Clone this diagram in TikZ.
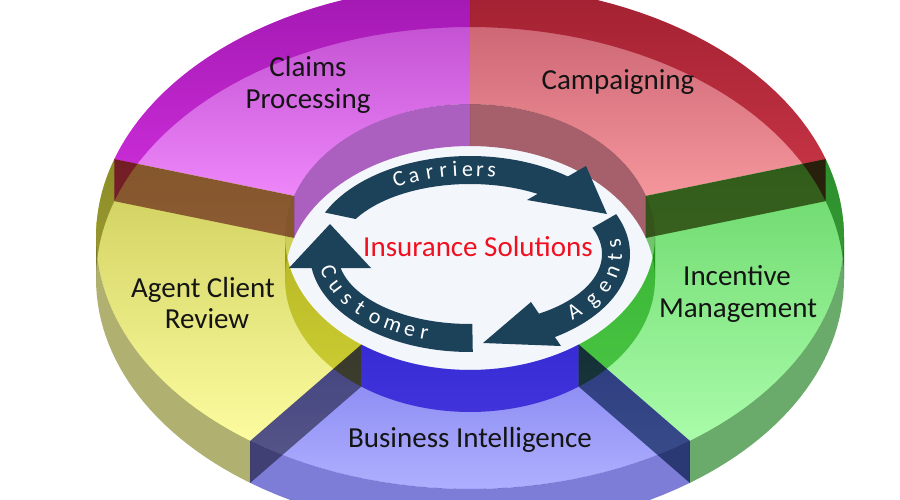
\documentclass[tikz,border=0pt]{standalone}
\usepackage{fontspec}
\setmainfont{Carlito}
\definecolor{mTa}{RGB}{186,70,202}\definecolor{mTb}{RGB}{238,135,250}
\definecolor{mDo}{RGB}{222,89,224}\definecolor{mDi}{RGB}{180,100,195}\definecolor{mDr}{RGB}{187,122,207}
\definecolor{rTa}{RGB}{196,92,108}\definecolor{rTb}{RGB}{245,150,156}
\definecolor{rDo}{RGB}{210,92,117}\definecolor{rDi}{RGB}{175,100,110}\definecolor{rDr}{RGB}{200,140,110}
\definecolor{gTa}{RGB}{105,215,105}\definecolor{gTb}{RGB}{170,252,170}
\definecolor{gDo}{RGB}{106,170,106}\definecolor{gDi}{RGB}{120,205,110}\definecolor{gDr}{RGB}{150,200,150}
\definecolor{bTa}{RGB}{130,130,240}\definecolor{bTb}{RGB}{175,175,255}
\definecolor{bDo}{RGB}{125,125,215}\definecolor{bDi}{RGB}{109,87,226}\definecolor{bDr}{RGB}{150,150,235}
\definecolor{yTa}{RGB}{205,205,90}\definecolor{yTb}{RGB}{252,252,160}
\definecolor{yDo}{RGB}{176,176,112}\definecolor{yDi}{RGB}{215,215,90}\definecolor{yDr}{RGB}{225,225,150}
\definecolor{navyc}{RGB}{28,66,90}
\definecolor{holec}{RGB}{243,246,251}
\definecolor{labc}{RGB}{20,20,20}
\definecolor{redt}{RGB}{240,16,32}
\def\RCX{470}\def\RCY{237}\def\ROX{374}\def\ROY{252}\def\RIX{185}\def\RIY{133}\def\RH{42}
\def\ACX{470}\def\ACY{254}
\newcommand{\ringsector}[3]{\path[#3] plot[domain=#1:#2,samples=40] ({\RCX+\ROX*cos(\x)},{\RCY-\ROY*sin(\x)}) -- plot[domain=#2:#1,samples=30] ({\RCX+\RIX*cos(\x)},{\RCY-\RIY*sin(\x)}) -- cycle;}
\newcommand{\outerwall}[3]{\path[#3] plot[domain=#1:#2,samples=30] ({\RCX+\ROX*cos(\x)},{\RCY-\ROY*sin(\x)}) -- plot[domain=#2:#1,samples=30] ({\RCX+\ROX*cos(\x)},{\RCY+\RH-\ROY*sin(\x)}) -- cycle;}
\newcommand{\innerwall}[3]{\path[#3] plot[domain=#1:#2,samples=30] ({\RCX+\RIX*cos(\x)},{\RCY-\RIY*sin(\x)}) -- plot[domain=#2:#1,samples=30] ({\RCX+\RIX*cos(\x)},{\RCY+\RH-\RIY*sin(\x)}) -- cycle;}
\newcommand{\radwall}[2]{\path[#2] ({\RCX+\RIX*cos(#1)},{\RCY-\RIY*sin(#1)}) -- ({\RCX+\ROX*cos(#1)},{\RCY-\ROY*sin(#1)}) -- ++(0,\RH) -- ({\RCX+\RIX*cos(#1)},{\RCY+\RH-\RIY*sin(#1)}) -- cycle;}
\tikzset{
  lab/.style={font=\fontsize{29}{32}\selectfont, text=labc, inner sep=0pt, anchor=base},
  arcl/.style={font=\fontsize{22}{22}\selectfont, text=white, inner sep=0pt, anchor=base},
  band/.style={fill=navyc}
}
\begin{document}
\begin{tikzpicture}[x=1pt,y=-1pt]
\useasboundingbox (0,0) rectangle (900,500);
\clip (0,0) rectangle (900,500);
% hole
\fill[holec] plot[domain=0:360,samples=90] ({\RCX+\RIX*cos(\x)},{\RCY-\RIY*sin(\x)}) -- cycle;
% top faces
\ringsector{162}{90}{top color=mTa,bottom color=mTb}
\ringsector{90}{18}{top color=rTa,bottom color=rTb}
\ringsector{18}{-54}{top color=gTa,bottom color=gTb}
\ringsector{-54}{-126}{top color=bTa,bottom color=bTb}
\ringsector{-126}{-198}{top color=yTa,bottom color=yTb}
% walls, multiplied
\begin{scope}[blend mode=multiply]
\outerwall{162}{90}{fill=mDo}
\outerwall{90}{18}{fill=rDo}
\outerwall{18}{0}{fill=gDo}
\outerwall{0}{-54}{fill=gDo}
\outerwall{-54}{-126}{fill=bDo}
\outerwall{-126}{-180}{fill=yDo}
\outerwall{-180}{-198}{fill=yDo}
\innerwall{162}{90}{fill=mDi}
\innerwall{90}{18}{fill=rDi}
\innerwall{18}{0}{fill=gDi}
\innerwall{0}{-54}{fill=gDi}
\innerwall{-54}{-126}{fill=bDi}
\innerwall{-126}{-180}{fill=yDi}
\innerwall{-180}{-198}{fill=yDi}
\radwall{162}{fill=mDr}
\radwall{162}{fill=yDr}
\radwall{18}{fill=rDr}
\radwall{18}{fill=gDr}
\radwall{-54}{fill=gDr}
\radwall{-54}{fill=bDr}
\radwall{-126}{fill=bDr}
\radwall{-126}{fill=yDr}
\end{scope}
% segment labels
\node[lab] (claims1) at (308,77) {Claims};
\node[lab] (claims2) at (308,109) {Processing};
\node[lab] (camp) at (618,90) {Campaigning};
\node[lab] (inc1) at (737,285) {Incentive};
\node[lab] (inc2) at (738,317) {Management};
\node[lab] (acr1) at (203,297) {Agent Client};
\node[lab] (acr2) at (207,328) {Review};
\node[lab] (bi) at (470,447) {Business Intelligence};
% cycle arrows
\path[band] plot[domain=155:52,samples=40] ({\ACX+160*cos(\x)},{\ACY-98*sin(\x)}) -- plot[domain=52:150,samples=40] ({\ACX+132*cos(\x)},{\ACY-70*sin(\x)}) -- cycle;
\path[band] (527,200) -- (586,166) -- (607,214) -- cycle;
\path[band] plot[domain=24:-60,samples=40] ({\ACX+160*cos(\x)},{\ACY-98*sin(\x)}) -- plot[domain=-60:22,samples=40] ({\ACX+132*cos(\x)},{\ACY-70*sin(\x)}) -- cycle;
\path[band] (531,302) -- (561,346) -- (483,343) -- cycle;
\path[band] plot[domain=271:186,samples=40] ({\ACX+160*cos(\x)},{\ACY-98*sin(\x)}) -- plot[domain=189:271,samples=40] ({\ACX+132*cos(\x)},{\ACY-70*sin(\x)}) -- cycle;
\path[band] (289,268) -- (371,268) -- (330,224) -- cycle;
% arc letters
\foreach \ch/\t [count=\i] in {C/119.5,a/113,r/106.3,r/100.7,i/96,e/91,r/86,s/81.3}{
  \pgfmathsetmacro\rr{atan2(-79*cos(\t),141*sin(\t))}
  \node[arcl,rotate=\rr] (car\i) at ({\ACX+140*cos(\t)},{\ACY-78*sin(\t)}) {\ch};
}
\foreach \ch/\t [count=\i] in {A/-44.8,g/-33.6,e/-23.3,n/-13,t/-2.7,s/7.5}{
  \pgfmathsetmacro\rr{atan2(89*cos(\t),-151*sin(\t))}
  \node[arcl,rotate=\rr] (agt\i) at ({\ACX+152*cos(\t)},{\ACY-90*sin(\t)}) {\ch};
}
\foreach \ch/\t [count=\i] in {C/193,u/204,s/213,t/221.5,o/230,m/238.5,e/246,r/252}{
  \pgfmathsetmacro\rr{atan2(89*cos(\t),-151*sin(\t))}
  \node[arcl,rotate=\rr] (cus\i) at ({\ACX+152*cos(\t)},{\ACY-90*sin(\t)}) {\ch};
}
\node[lab,text=redt] (ins) at (478,256) {Insurance Solutions};
\end{tikzpicture}
\end{document}
